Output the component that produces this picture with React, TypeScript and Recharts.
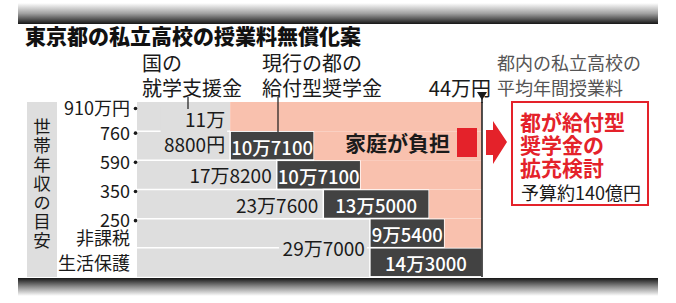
import React from 'react';
import { BarChart, Bar, XAxis, YAxis, ReferenceLine } from 'recharts';

// 世帯年収の目安 (row top boundary label / row middle label)
const incomeTop = ['910万円', '760', '590', '350', '250', ''];
const incomeMid = ['', '', '', '', '非課税', '生活保護'];

// 万円
const nationalAid = [11.88, 11.88, 17.82, 23.76, 29.7, 29.7];
const tokyoAid = [0, 10.71, 10.71, 13.5, 9.54, 14.3];
const nationalLabels = ['', '11万\n8800円', '17万8200', '23万7600', '', '29万7000'];
const tokyoLabels = ['', '10万7100', '10万7100', '13万5000', '9万5400', '14万3000'];
const AVG_TUITION = 44;

const data = incomeTop.map((_, i) => ({
  key: String(i),
  national: nationalAid[i],
  tokyo: tokyoAid[i],
  family: +(AVG_TUITION - nationalAid[i] - tokyoAid[i]).toFixed(2),
}));

const FONT = "'Noto Sans CJK JP', 'Noto Sans', sans-serif";
const GRAY = '#dedede';
const DARK = '#424242';
const PINK = '#f9c1ae';
const RED = '#e4222a';
const ROW_H = 175 / 6;

const textWidth = (s: string, fs: number) =>
  s.split('').reduce((w, c) => w + (/[0-9]/.test(c) ? 0.56 : 1) * fs, 0);

const rowIndex = (p: any) => Number(p.payload?.key ?? p.index);

const NationalShape = (p: any) => {
  const { x, y, width, height } = p;
  const i = rowIndex(p);
  const label = nationalLabels[i];
  const joined = i > 0 && nationalAid[i - 1] === nationalAid[i];
  const lines = label ? label.split('\n') : [];
  const cy = joined ? y : y + height / 2;
  const right = x + width - 5;
  const fs = 19;
  const lh = 25;
  const w = Math.max(0, ...lines.map((t) => textWidth(t, fs)));
  return (
    <g>
      <rect x={x} y={y} width={width} height={height} fill={GRAY} />
      {i > 0 && <line x1={x} x2={x + width} y1={y} y2={y} stroke="#fff" strokeWidth={1.5} />}
      {lines.length > 0 && (
        <rect x={right - w - 3} y={cy - (lines.length * lh) / 2} width={w + 5} height={lines.length * lh} fill={GRAY} />
      )}
      {lines.map((t, k) => (
        <text
          key={k}
          x={right}
          y={cy + (k - (lines.length - 1) / 2) * lh}
          textAnchor="end"
          dominantBaseline="central"
          fontSize={fs}
          fill="#1a1a1a"
          fontFamily={FONT}
        >
          {t}
        </text>
      ))}
    </g>
  );
};

const TokyoShape = (p: any) => {
  const { x, y, width, height } = p;
  if (!width || width <= 0.5) return null;
  const i = rowIndex(p);
  return (
    <g>
      <rect x={x} y={y} width={width} height={height} fill={DARK} stroke="#fff" strokeWidth={1.5} />
      <text
        x={x + width / 2}
        y={y + height / 2 + 1}
        textAnchor="middle"
        dominantBaseline="central"
        fontSize={18.5}
        fontWeight={500}
        fill="#fff"
        fontFamily={FONT}
      >
        {tokyoLabels[i]}
      </text>
    </g>
  );
};

const IncomeTick = (p: any) => {
  const i = Number(p.payload?.value);
  const y = p.y;
  const top = incomeTop[i];
  const mid = incomeMid[i];
  const ty = y - ROW_H / 2 + (i === 0 ? 5 : 0.5);
  return (
    <g fontFamily={FONT} fontSize={18} fill="#1a1a1a">
      {top && (
        <>
          <text x={130} y={ty} textAnchor="end" dominantBaseline="central">
            {top}
          </text>
          <circle cx={135.5} cy={ty + 1.5} r={1.8} fill="#1a1a1a" />
        </>
      )}
      {mid && (
        <text x={130} y={y + (i === 4 ? 4 : 0)} textAnchor="end" dominantBaseline="central">
          {mid}
        </text>
      )}
    </g>
  );
};

export default function App() {
  return (
    <div style={{ position: 'absolute', left: 0, top: 0, width: 676, height: 303, background: '#fff', fontFamily: FONT }}>
      <svg width={676} height={303} style={{ position: 'absolute', left: 0, top: 0 }}>
        <defs>
          <linearGradient id="frameTop" x1="0" y1="0" x2="0" y2="1">
            <stop offset="0" stopColor="#ffffff" />
            <stop offset="0.5" stopColor="#a0a0a0" />
            <stop offset="1" stopColor="#161616" />
          </linearGradient>
          <linearGradient id="frameBottom" x1="0" y1="0" x2="0" y2="1">
            <stop offset="0" stopColor="#161616" />
            <stop offset="0.5" stopColor="#909090" />
            <stop offset="1" stopColor="#ffffff" />
          </linearGradient>
        </defs>
        <rect x={18} y={3} width={640} height={21} fill="url(#frameTop)" />
        <rect x={18} y={278} width={640} height={18} fill="url(#frameBottom)" />
        <rect x={27} y={102} width={30} height={175} fill={GRAY} />
      </svg>
      <div style={{ position: 'absolute', left: 0, top: 0 }}>
        <BarChart
          width={676}
          height={303}
          data={data}
          layout="vertical"
          margin={{ top: 102, right: 194, bottom: 26, left: 0 }}
          barCategoryGap={0}
          barGap={0}
        >
          <XAxis type="number" domain={[0, AVG_TUITION]} hide />
          <YAxis
            type="category"
            dataKey="key"
            width={137}
            axisLine={false}
            tickLine={false}
            tick={<IncomeTick />}
            interval={0}
          />
          <Bar dataKey="national" stackId="a" fill={GRAY} shape={<NationalShape />} isAnimationActive={false} />
          <Bar dataKey="tokyo" stackId="a" fill={DARK} shape={<TokyoShape />} isAnimationActive={false} />
          <Bar dataKey="family" stackId="a" fill={PINK} isAnimationActive={false} />
          <ReferenceLine x={AVG_TUITION} stroke="#1a1a1a" strokeWidth={1.5} />
        </BarChart>
      </div>
      <svg width={676} height={303} style={{ position: 'absolute', left: 0, top: 0, pointerEvents: 'none' }} fontFamily={FONT}>
        <text x={25} y={35} dominantBaseline="central" fontSize={21} fontWeight={900} fill="#111">
          東京都の私立高校の授業料無償化案
        </text>

        <g fontSize={20} fill="#1a1a1a">
          <text x={142} y={62} dominantBaseline="central">国の</text>
          <text x={142} y={87} dominantBaseline="central">就学支援金</text>
          <text x={262} y={62} dominantBaseline="central">現行の都の</text>
          <text x={262} y={87} dominantBaseline="central">給付型奨学金</text>
          <text x={491} y={87} textAnchor="end" dominantBaseline="central">44万円</text>
        </g>
        <g fontSize={18} fill="#555">
          <text x={497} y={62} dominantBaseline="central">都内の私立高校の</text>
          <text x={497} y={87} dominantBaseline="central">平均年間授業料</text>
        </g>

        <line x1={188} x2={188} y1={97} y2={109} stroke="#1a1a1a" strokeWidth={1.2} />
        <line x1={278} x2={278} y1={97} y2={132} stroke="#1a1a1a" strokeWidth={1.2} />
        <line x1={482} x2={482} y1={96} y2={103} stroke="#1a1a1a" strokeWidth={1.5} />
        <polygon points="477,92 487,92 482,100" fill="#1a1a1a" />

        <text
          x={42}
          y={118}
          fontSize={17.5}
          fill="#1a1a1a"
          letterSpacing={1.5}
          style={{ writingMode: 'vertical-rl' }}
        >
          世帯年収の目安
        </text>

        <text x={450} y={142} textAnchor="end" dominantBaseline="central" fontSize={21} fontWeight={700} fill="#1a1a1a">
          家庭が負担
        </text>
        <rect x={457} y={128} width={20} height={29} fill={RED} />
        <polygon points="486,130 493,130 493,121 507,142 493,164 493,155 486,155" fill={RED} />

        <rect x={512} y={102} width={136} height={103} fill="#fff" stroke={RED} strokeWidth={2} />
        <text fontSize={21} fontWeight={700} fill={RED} dominantBaseline="central">
          <tspan x={520} y={121}>都が給付型</tspan>
          <tspan x={520} y={144}>奨学金の</tspan>
          <tspan x={520} y={167}>拡充検討</tspan>
        </text>
        <text x={521} y={192} dominantBaseline="central" fontSize={18} fill="#1a1a1a">
          予算約140億円
        </text>
      </svg>
    </div>
  );
}
